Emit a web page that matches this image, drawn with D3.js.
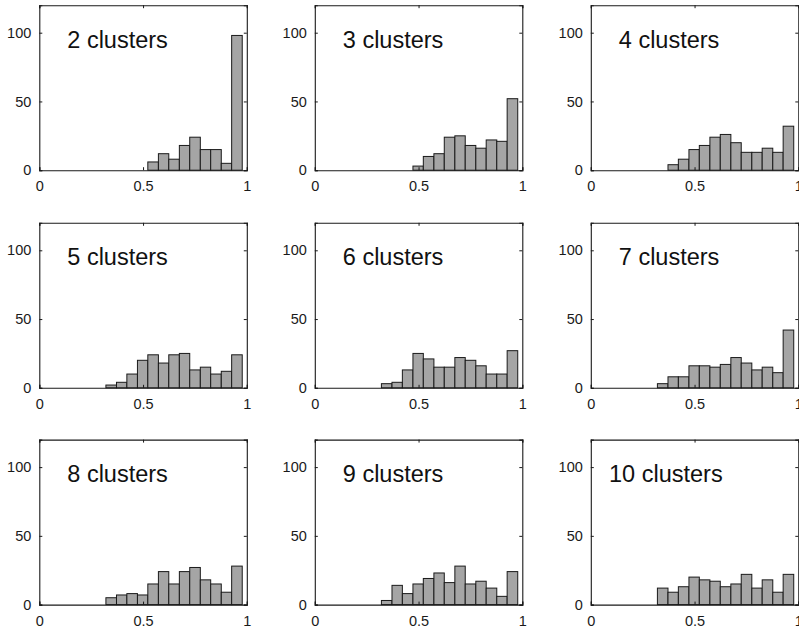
<!DOCTYPE html>
<html>
<head>
<meta charset="utf-8">
<script src="https://cdn.jsdelivr.net/npm/d3@7"></script>
<style>
  html, body { margin: 0; padding: 0; background: #fff; }
  svg { display: block; font-family: "Liberation Sans", Arial, sans-serif; }
</style>
</head>
<body>
<svg id="chart" width="799" height="628"></svg>
<script>
// Histogram bin edges shared by every panel (13 bins)
const binEdges = [0.321, 0.372, 0.422, 0.473, 0.523, 0.574, 0.624, 0.675, 0.725, 0.776, 0.826, 0.877, 0.927, 0.978];

// Number of clusters for each panel
const clusterNumbers = [2, 3, 4, 5, 6, 7, 8, 9, 10];

// Counts per bin for each clustering
const counts2  = [0, 0, 0, 0, 6, 12, 8, 18, 24, 15, 15, 5, 98];
const counts3  = [0, 0, 0, 3, 10, 12, 24, 25, 18, 16, 22, 21, 52];
const counts4  = [0, 4, 8, 15, 18, 24, 26, 20, 13, 13, 16, 13, 32];
const counts5  = [2, 4, 10, 20, 24, 18, 24, 25, 13, 15, 10, 12, 24];
const counts6  = [3, 4, 13, 25, 21, 15, 15, 22, 20, 16, 10, 10, 27];
const counts7  = [3, 8, 8, 16, 16, 15, 17, 22, 18, 13, 15, 11, 42];
const counts8  = [5, 7, 8, 7, 15, 24, 15, 24, 27, 18, 15, 9, 28];
const counts9  = [3, 14, 8, 15, 19, 23, 16, 28, 15, 17, 12, 6, 24];
const counts10 = [12, 9, 13, 20, 18, 17, 13, 15, 22, 12, 18, 9, 22];

// Axis ticks
const xTicks = [0, 0.5, 1];
const xTickLabels = ["0", "0.5", "1"];
const yTicks = [0, 50, 100];
const yTickLabels = ["0", "50", "100"];
const xDomain = [0, 1];
const yDomain = [0, 120];

const allCounts = [counts2, counts3, counts4, counts5, counts6, counts7, counts8, counts9, counts10];

const panels = clusterNumbers.map((k, i) => ({
  title: k + " clusters",
  bins: allCounts[i].map((c, j) => ({ x0: binEdges[j], x1: binEdges[j + 1], count: c }))
}));

// Grid layout
const colLeft = [39.3, 314.8, 590.8];
const rowTop = [5.2, 222.8, 439.6];
const pw = 207.5, ph = 165;

const svg = d3.select("#chart");

panels.forEach((p, i) => {
  const r = Math.floor(i / 3), c = i % 3;
  const g = svg.append("g").attr("transform", `translate(${colLeft[c]},${rowTop[r]})`);

  const x = d3.scaleLinear().domain(xDomain).range([0, pw]);
  const y = d3.scaleLinear().domain(yDomain).range([ph, 0]);

  // Bars
  g.selectAll("rect.bar")
    .data(p.bins.filter(b => b.count > 0))
    .join("rect")
    .attr("class", "bar")
    .attr("x", d => x(d.x0))
    .attr("width", d => x(d.x1) - x(d.x0))
    .attr("y", d => y(d.count))
    .attr("height", d => y(0) - y(d.count))
    .attr("fill", "#a5a5a5")
    .attr("stroke", "#1a1a1a")
    .attr("stroke-width", 1);

  // Bottom and left axes with inward ticks
  const xAxis = d3.axisBottom(x).tickValues(xTicks).tickSize(-3).tickPadding(11)
    .tickFormat((d, j) => xTickLabels[j]);
  const yAxis = d3.axisLeft(y).tickValues(yTicks).tickSize(-3).tickPadding(8)
    .tickFormat((d, j) => yTickLabels[j]);
  // Mirrored top and right axes
  const xTop = d3.axisTop(x).tickValues(xTicks).tickSize(-3).tickFormat("");
  const yRight = d3.axisRight(y).tickValues(yTicks).tickSize(-3).tickFormat("");

  const styleAxis = sel => {
    sel.select(".domain").attr("stroke", "#1a1a1a").attr("stroke-width", 1.1);
    sel.selectAll(".tick line").attr("stroke", "#1a1a1a");
    sel.selectAll(".tick text").attr("fill", "#1a1a1a").style("font-size", "14.5px")
      .style("font-family", "'Liberation Sans', Arial, sans-serif");
  };

  g.append("g").attr("transform", `translate(0,${ph})`).call(xAxis).call(styleAxis);
  g.append("g").call(yAxis).call(styleAxis);
  g.append("g").call(xTop).call(styleAxis);
  g.append("g").attr("transform", `translate(${pw},0)`).call(yRight).call(styleAxis);

  // Panel title inside the box
  const tx = p.title.startsWith("10") ? 0.088 : 0.135;
  g.append("text")
    .attr("x", x(tx))
    .attr("y", y(93.5))
    .attr("dominant-baseline", "middle")
    .attr("fill", "#111")
    .style("font-size", "23.5px")
    .text(p.title);
});
</script>
</body>
</html>
